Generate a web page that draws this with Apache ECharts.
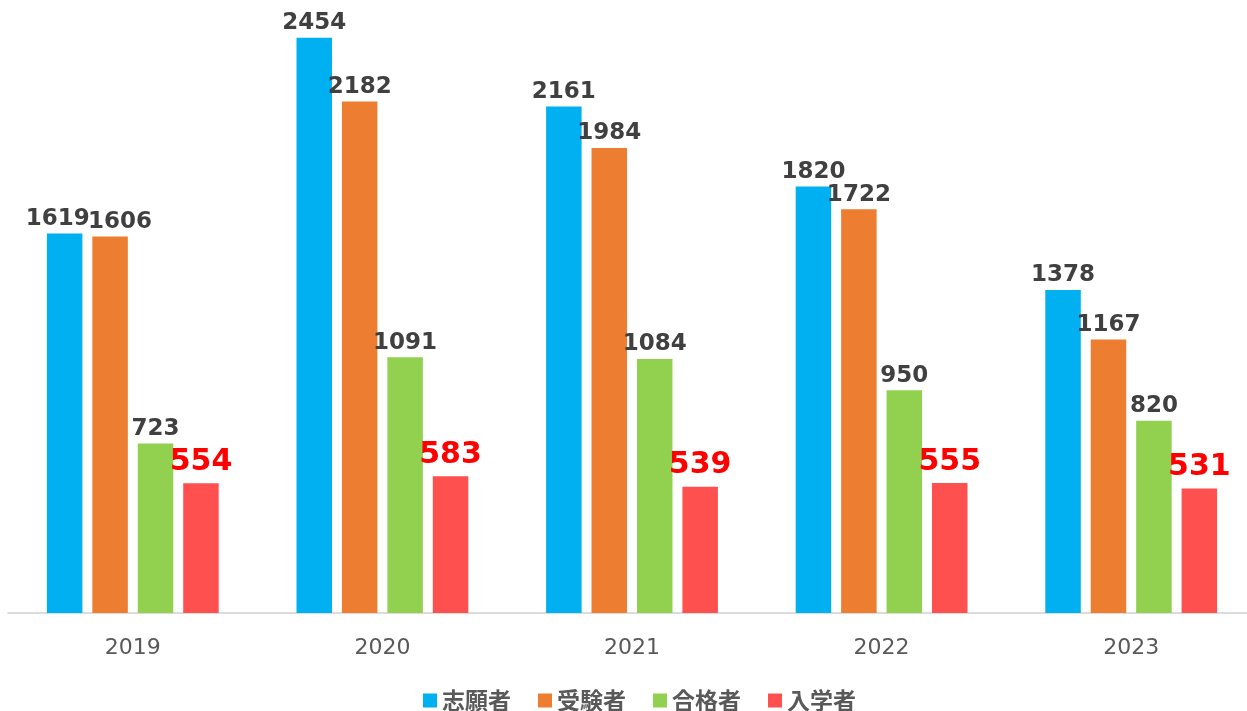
<!DOCTYPE html>
<html>
<head>
<meta charset="utf-8">
<script src="https://cdn.jsdelivr.net/npm/echarts@6/dist/echarts.min.js"></script>
<style>
  html, body { margin: 0; padding: 0; background: #fff; overflow: hidden; }
  #chart { width: 1256px; height: 711px; }
</style>
</head>
<body>
<div id="chart"></div>
<script>
// data
const years = ['2019', '2020', '2021', '2022', '2023']
const seriesNames = ['志願者', '受験者', '合格者', '入学者']
const applicants = [1619, 2454, 2161, 1820, 1378]
const examinees = [1606, 2182, 1984, 1722, 1167]
const passed = [723, 1091, 1084, 950, 820]
const enrolled = [554, 583, 539, 555, 531]

const colors = ['#00B0F0', '#ED7D31', '#92D050', '#FF5050']
const values = [applicants, examinees, passed, enrolled]

const chart = echarts.init(document.getElementById('chart'))

const font = 'Verdana, "DejaVu Sans", "Noto Sans CJK JP", sans-serif'

// push apart the first two labels when their bars are nearly the same height
const closePair = (idx) => Math.abs(applicants[idx] - examinees[idx]) < 60

const series = values.map((data, i) => {
  const isLast = i === 3
  let layout
  if (i === 0) layout = (p) => (closePair(p.dataIndex) ? { dx: -7 } : {})
  if (i === 1) layout = (p) => (closePair(p.dataIndex) ? { dx: 10 } : {})
  return {
    name: seriesNames[i],
    type: 'bar',
    data: data,
    barWidth: 35.5,
    barGap: '28%',
    itemStyle: { color: colors[i] },
    labelLayout: layout,
    label: {
      show: true,
      position: 'top',
      distance: isLast ? 6 : 3,
      color: isLast ? '#FF0000' : '#404040',
      fontFamily: font,
      fontWeight: 'bold',
      fontSize: isLast ? 30 : 23
    }
  }
})

chart.setOption({
  backgroundColor: '#fff',
  animation: false,
  color: colors,
  grid: { left: 8, right: 0, top: 27, bottom: 98, containLabel: false },
  legend: {
    left: 418,
    top: 684,
    itemWidth: 14,
    itemHeight: 14,
    itemGap: 27,
    icon: 'rect',
    textStyle: {
      color: '#595959',
      fontSize: 23,
      fontWeight: 'bold',
      fontFamily: '"Noto Sans CJK JP", sans-serif'
    },
    data: seriesNames
  },
  xAxis: {
    type: 'category',
    data: years,
    axisLine: { lineStyle: { color: '#d0d0d0', width: 1.5 } },
    axisTick: { show: false },
    axisLabel: {
      color: '#595959',
      fontSize: 22,
      fontFamily: font,
      margin: 24
    }
  },
  yAxis: {
    type: 'value',
    min: 0,
    max: 2500,
    show: false,
    splitLine: { show: false }
  },
  series: series
})
</script>
</body>
</html>
